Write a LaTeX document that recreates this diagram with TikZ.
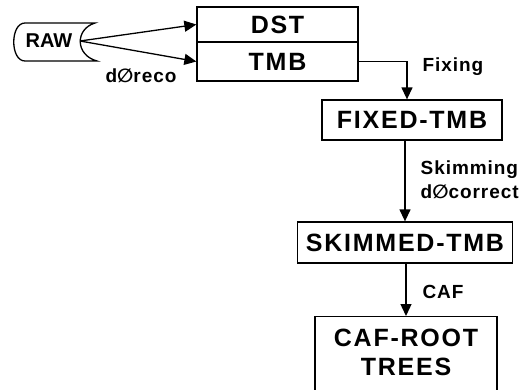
\documentclass[tikz,border=0pt]{standalone}
\usepackage{fontspec}
\setmainfont{Liberation Sans}
\newfontfamily\symfont{DejaVu Sans}
\newfontfamily\boxfont[LetterSpace=7]{Liberation Sans}
\newfontfamily\lblfont[LetterSpace=5]{Liberation Sans}
\usetikzlibrary{arrows.meta}
\begin{document}
\begin{tikzpicture}[x=1pt,y=-1pt, line width=1.3pt,
  box/.style={draw, font=\boxfont\bfseries\fontsize{25}{29}\selectfont, inner sep=0pt, anchor=center},
  lbl/.style={font=\lblfont\bfseries\fontsize{19}{24}\selectfont, inner sep=0pt},
  arr/.style={-{Triangle[length=12pt,width=11pt]}}]
\useasboundingbox (0,0) rectangle (523,389);
\clip (0,0) rectangle (523,389);
% RAW storage shape
\draw (25,23) -- (95,23) .. controls (75,29) and (75,55) .. (97,61) -- (25,61)
      .. controls (10,61) and (10,23) .. (25,23) -- cycle;
\node[font=\bfseries\fontsize{20}{24}\selectfont, inner sep=0pt] (raw) at (49,41) {RAW};
\coordinate (rawtip) at (80,41);
% boxes
\node[box, minimum width=161pt, minimum height=35pt] (dst) at (277.5,24.5) {DST};
\node[box, minimum width=161pt, minimum height=39pt] (tmb) at (277.5,61.5) {TMB};
\node[box, minimum width=180pt, minimum height=40pt] (fixed) at (412,120) {FIXED-TMB};
\node[box, minimum width=215pt, minimum height=41pt] (skimmed) at (405,242.5) {SKIMMED-TMB};
\node[box, minimum width=182pt, minimum height=90pt, anchor=north] (caf) at (406,316) {};
\node[box, draw=none, align=center] (caftxt) at (406,352.5) {CAF-ROOT\\TREES};
% labels
\node[lbl] (reco) at (141,76) {d{\symfont ∅}reco};
\node[lbl] (fixing) at (453,67) {Fixing};
\node[lbl, align=left, anchor=west] (skim) at (420,180) {Skimming\\d{\symfont ∅}correct};
\node[lbl] (caflbl) at (443,292) {CAF};
% connectors
\draw[arr] (rawtip) -- (dst.west);
\draw[arr] (rawtip) -- (tmb.west);
\draw[arr] (tmb.east) -| ([xshift=-5pt]fixed.north);
\draw[arr] (fixed.south -| skimmed.north) -- (skimmed.north);
\draw[arr] (skimmed.south -| caf.north) -- (caf.north);
\end{tikzpicture}
\end{document}
